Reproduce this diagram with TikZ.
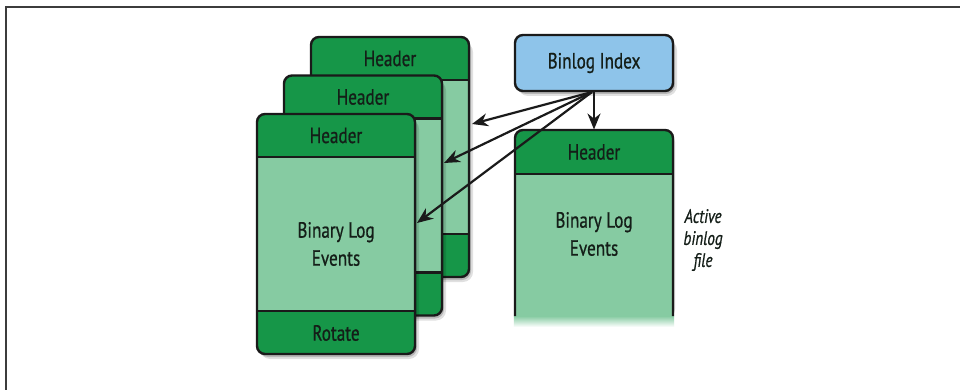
\documentclass[tikz,border=0pt]{standalone}
\usepackage{fontspec}
\setmainfont[FakeStretch=0.78,FakeBold=0.7]{PT Sans}
\usetikzlibrary{arrows.meta}
\definecolor{hdr}{RGB}{22,150,72}
\definecolor{evt}{RGB}{134,203,162}
\definecolor{idx}{RGB}{142,196,234}
\definecolor{ink}{RGB}{20,30,24}
\definecolor{edgec}{RGB}{26,26,26}
\definecolor{framec}{RGB}{60,60,60}
\tikzset{
  cardedge/.style={draw=edgec, line width=2.4pt, rounded corners=8pt},
  sep/.style={draw=edgec, line width=2.4pt},
  shadowa/.style={fill=black, opacity=0.18, rounded corners=9pt},
  shadowb/.style={fill=black, opacity=0.12, rounded corners=10pt},
  lbl/.style={text=ink, font=\fontsize{22}{28}\selectfont, align=center, inner sep=0pt},
  note/.style={text=ink, font=\fontsize{19.5}{22}\selectfont\itshape, align=center, inner sep=0pt},
  idxbox/.style={draw=edgec, line width=2.4pt, fill=idx, rounded corners=8pt,
    minimum width=158pt, minimum height=56pt, inner sep=0pt, text=ink,
    font=\fontsize{22}{22}\selectfont},
  ptr/.style={draw=edgec, line width=2.2pt, -{Stealth[length=16pt,width=13pt]}},
}
\newcommand\drawbinfile[3]{%
  \fill[shadowb] (#2+3,#3+5) rectangle ++(159,240);
  \fill[shadowa] (#2+2,#3+3) rectangle ++(158,240);
  \begin{scope}
    \clip[rounded corners=8pt] (#2,#3) rectangle ++(158,240);
    \fill[evt] (#2,#3) rectangle ++(158,240);
    \fill[hdr] (#2,#3) rectangle ++(158,43);
    \fill[hdr] (#2,#3+197) rectangle ++(158,43);
  \end{scope}
  \draw[sep] (#2,#3+43) -- ++(158,0);
  \draw[sep] (#2,#3+197) -- ++(158,0);
  \draw[cardedge] (#2,#3) rectangle ++(158,240);
  \node[lbl] (#1hdr) at (#2+79,#3+21.5) {Header};
}
\begin{document}
\begin{tikzpicture}[x=1pt,y=-1pt]
\useasboundingbox (0,0) rectangle (960,390);
\fill[white] (0,0) rectangle (960,390);
\draw[framec, line width=2pt] (6,390) -- (6,7) -- (960,7);

% stacked binlog files
\drawbinfile{back}{311}{37}
\drawbinfile{mid}{284}{75.5}
\drawbinfile{front}{257}{114}
\node[lbl] (frontevt) at (336,244) {Binary Log\\Events};
\node[lbl] (frontrot) at (336,333) {Rotate};

% binlog index
\fill[shadowb] (518,40) rectangle ++(159,56);
\fill[shadowa] (517,38) rectangle ++(158,56);
\node[idxbox] (index) at (594,63) {Binlog Index};

% active binlog file
\fill[shadowa] (517,133) rectangle (675,318);
\begin{scope}
  \clip[rounded corners=8pt] (515,345) -- (515,130) -- (673,130) -- (673,345) -- cycle;
  \fill[evt] (515,130) rectangle (673,316);
  \fill[hdr] (515,130) rectangle (673,174);
\end{scope}
\shade[top color=evt, bottom color=white] (513.8,316) rectangle (674.2,327);
\draw[sep] (515,174) -- (673,174);
\draw[cardedge] (515,316) -- (515,130) -- (673,130) -- (673,316);
\node[lbl] (acthdr) at (594,152) {Header};
\node[lbl] (actevt) at (594,234) {Binary Log\\Events};
\node[note] (actnote) at (703,240) {Active\\binlog\\file};

% pointers
\coordinate (tback) at (472,124);
\coordinate (tmid) at (444,163);
\coordinate (tfront) at (417,223);
\coordinate (tact) at (594,129.5);
\coordinate (src) at (592,92);
\draw[ptr] (src) -- (tback);
\draw[ptr] (src) -- (tmid);
\draw[ptr] (src) -- (tfront);
\draw[ptr] (index.south) -- (tact);
\end{tikzpicture}
\end{document}
